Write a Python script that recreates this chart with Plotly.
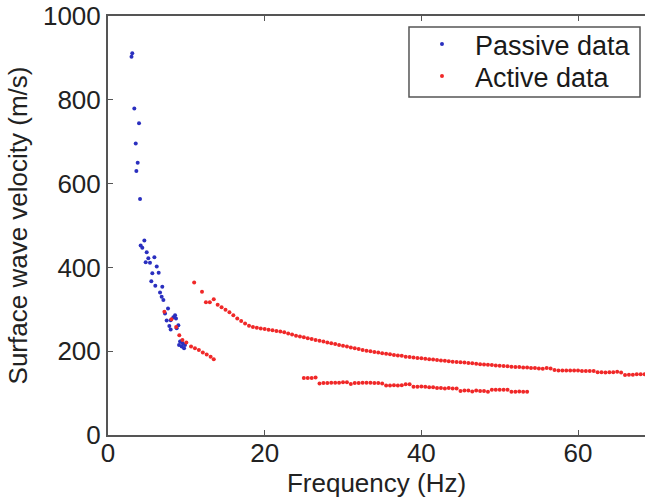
import plotly.graph_objects as go

# Passive data (blue)
passive_freq = [3.1, 3.0, 3.36, 3.96, 3.54, 3.79, 3.62, 4.09,
                4.64, 4.17, 4.38, 4.94, 5.15, 5.92, 4.81, 5.36, 6.22, 5.66, 6.47,
                5.53, 6.04, 6.93, 6.64, 6.85, 7.07, 7.66, 7.28, 8.56, 8.34, 8.00,
                7.49, 8.68, 7.83, 8.98, 8.00, 8.77, 9.28, 9.54, 9.07, 9.41, 9.71,
                9.83, 9.20]
passive_vel = [911, 903, 779, 744, 696, 650, 630, 563,
               464, 452, 447, 436, 422, 424, 412, 411, 402, 386, 387,
               367, 356, 354, 340, 330, 322, 302, 290, 286, 281, 274,
               273, 278, 260, 262, 252, 255, 223, 219, 215, 211, 207,
               215, 223]

# Active data (red): lower-frequency branch
active_low_freq = [7.2, 8.1, 8.7, 9.1, 9.5, 10.0, 10.6, 11.1, 11.6, 12.1, 12.6, 13.1, 13.5]
active_low_vel = [294, 276, 258, 238, 227, 221, 211, 207, 203, 197, 192, 187, 181]

# Active data (red): fundamental branch
active_up_freq = [11.0, 12.0, 12.5, 13.0, 13.5, 14.0, 14.5, 15.0, 15.5, 16.0, 16.5, 17.0,
                  17.5, 18.0, 18.5, 19.0, 19.5, 20.0, 20.5, 21.0, 21.5, 22.0, 22.5, 23.0,
                  23.5, 24.0, 24.5, 25.0, 25.5, 26.0, 26.5, 27.0, 27.5, 28.0, 28.5, 29.0,
                  29.5, 30.0, 30.5, 31.0, 31.5, 32.0, 32.5, 33.0, 33.5, 34.0, 34.5, 35.0,
                  35.5, 36.0, 36.5, 37.0, 37.5, 38.0, 38.5, 39.0, 39.5, 40.0, 40.5, 41.0,
                  41.5, 42.0, 42.5, 43.0, 43.5, 44.0, 44.5, 45.0, 45.5, 46.0, 46.5, 47.0,
                  47.5, 48.0, 48.5, 49.0, 49.5, 50.0, 50.5, 51.0, 51.5, 52.0, 52.5, 53.0,
                  53.5, 54.0, 54.5, 55.0, 55.5, 56.0, 56.5, 57.0, 57.5, 58.0, 58.5, 59.0,
                  59.5, 60.0, 60.5, 61.0, 61.5, 62.0, 62.5, 63.0, 63.5, 64.0, 64.5, 65.0,
                  65.5, 66.0, 66.5, 67.0, 67.5, 68.0, 68.5]
active_up_vel = [364, 342, 317, 317, 324, 311, 305, 299, 293, 286, 278, 272,
                 266, 261, 258, 256, 254, 253, 251, 250, 248, 247, 245, 242,
                 240, 237, 235, 233, 231, 229, 227, 225, 223, 221, 219, 217,
                 215, 213, 211, 209, 207, 205, 203, 201, 200, 198, 197, 195,
                 194, 193, 191, 190, 189, 187, 186, 185, 184, 183, 182, 181,
                 180, 179, 178, 177, 176, 175, 174, 173.5, 173, 172, 171, 170,
                 169, 168, 167.5, 167, 166, 165, 164.5, 164, 163, 162.5, 162, 161,
                 161, 160, 160, 159, 158, 160, 159, 155, 154, 154, 154, 154,
                 154, 154, 153, 153, 153, 153, 150, 150, 149, 150, 150, 151,
                 149, 143, 144, 144, 145, 145, 145]

# Active data (red): higher mode branch
active_hi_freq = [25.0, 25.5, 26.0, 26.5, 27.0, 27.5, 28.0, 28.5, 29.0, 29.5, 30.0, 30.5,
                  31.0, 31.5, 32.0, 32.5, 33.0, 33.5, 34.0, 34.5, 35.0, 35.5, 36.0, 36.5,
                  37.0, 37.5, 38.0, 38.5, 39.0, 39.5, 40.0, 40.5, 41.0, 41.5, 42.0, 42.5,
                  43.0, 43.5, 44.0, 44.5, 45.0, 45.5, 46.0, 46.5, 47.0, 47.5, 48.0, 48.5,
                  49.0, 49.5, 50.0, 50.5, 51.0, 51.5, 52.0, 52.5, 53.0, 53.5]
active_hi_vel = [136, 136, 136, 137, 123, 124, 124, 125, 125, 125, 126, 126,
                 122, 124, 124, 125, 125, 125, 124, 124, 123, 118, 118, 119,
                 118, 119, 121, 121, 115, 115, 116, 115, 114, 114, 112, 112,
                 111, 112, 111, 111, 105, 106, 106, 104, 106, 105, 105, 103,
                 108, 108, 108, 108, 108, 103, 103, 104, 103, 103]

active_freq = active_low_freq + active_up_freq + active_hi_freq
active_vel = active_low_vel + active_up_vel + active_hi_vel

x_ticks = [0, 20, 40, 60]
y_ticks = [0, 200, 400, 600, 800, 1000]

FONT = "Liberation Sans, Arial, sans-serif"
AXIS_COLOR = "#555555"
LEG_FONT = dict(size=27, family=FONT, color="#1a1a1a")

fig = go.Figure()
fig.add_trace(go.Scatter(x=passive_freq, y=passive_vel, mode="markers", name="Passive data",
                         marker=dict(color="#2a2fbf", size=4), legend="legend"))
fig.add_trace(go.Scatter(x=active_freq, y=active_vel, mode="markers", name="Active data",
                         marker=dict(color="#f02828", size=4), legend="legend2"))

# legend frame
fig.add_shape(type="rect", xref="paper", yref="paper",
              x0=0.5605, x1=0.9907, y0=0.8067, y1=0.9737,
              line=dict(color="#555555", width=1.5), fillcolor="white", layer="above")

fig.update_layout(
    width=645, height=504,
    margin=dict(l=108, r=0, t=16, b=69),
    paper_bgcolor="white", plot_bgcolor="white",
    font=dict(family=FONT, color="#222222", size=26),
    legend=dict(x=0.5605, y=0.9905, xanchor="left", yanchor="top",
                bgcolor="rgba(0,0,0,0)", borderwidth=0, font=LEG_FONT, itemwidth=56),
    legend2=dict(x=0.5605, y=0.914, xanchor="left", yanchor="top",
                 bgcolor="rgba(0,0,0,0)", borderwidth=0, font=LEG_FONT, itemwidth=56),
    showlegend=True,
)
fig.update_xaxes(range=[0, 68.55], tickvals=x_ticks, ticks="inside", ticklen=5,
                 tickcolor=AXIS_COLOR, showline=True, linecolor=AXIS_COLOR, linewidth=2,
                 mirror="ticks", showgrid=False, zeroline=False, automargin=False,
                 tickfont=dict(size=26), ticklabelstandoff=-6,
                 title=dict(text="Frequency (Hz)", font=dict(size=26), standoff=5))
fig.update_yaxes(range=[0, 1000], tickvals=y_ticks, ticks="inside", ticklen=5,
                 tickcolor=AXIS_COLOR, showline=True, linecolor=AXIS_COLOR, linewidth=2,
                 mirror=False, showgrid=False, zeroline=False, automargin=False,
                 tickfont=dict(size=26),
                 title=dict(text="Surface wave velocity (m/s)", font=dict(size=26), standoff=8))

fig.write_html("out.html", config={"displayModeBar": False},
               post_script="document.body.style.margin='0';document.body.style.overflow='hidden';")
